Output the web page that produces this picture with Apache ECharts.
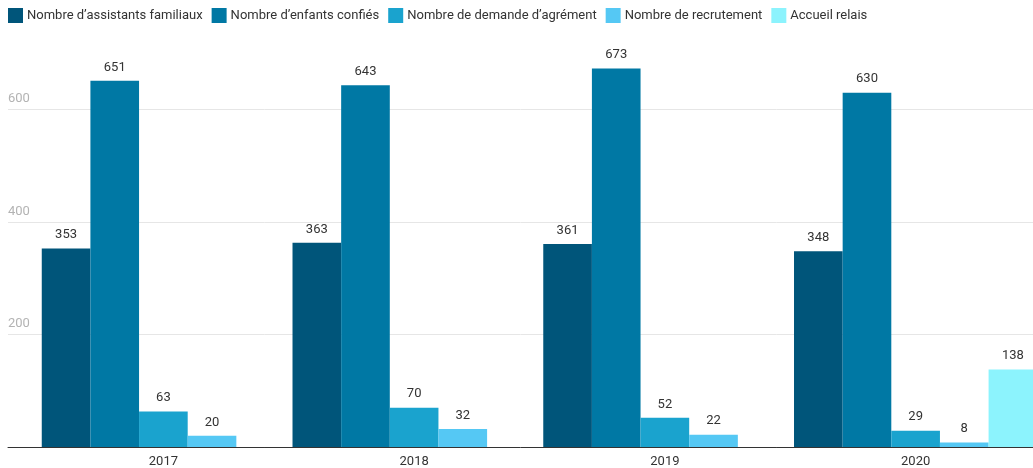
<!DOCTYPE html>
<html>
<head>
<meta charset="utf-8">
<style>
  html, body { margin: 0; padding: 0; background: #fff; }
  #chart { width: 1033px; height: 468px; }
</style>
<script src="https://cdn.jsdelivr.net/npm/echarts@6/dist/echarts.min.js"></script>
</head>
<body>
<div id="chart"></div>
<script>
// Years on the category axis
const years = ['2017', '2018', '2019', '2020'];

// One array per series, in year order
const assistantsFamiliaux = [353, 363, 361, 348];
const enfantsConfies = [651, 643, 673, 630];
const demandesAgrement = [63, 70, 52, 29];
const recrutements = [20, 32, 22, 8];
const accueilRelais = [null, null, null, 138];

const seriesNames = [
  'Nombre d’assistants familiaux',
  'Nombre d’enfants confiés',
  'Nombre de demande d’agrément',
  'Nombre de recrutement',
  'Accueil relais'
];
const seriesData = [assistantsFamiliaux, enfantsConfies, demandesAgrement, recrutements, accueilRelais];
const colors = ['#00557a', '#0078a4', '#1aa3ce', '#55c8f4', '#8cf3fd'];

const yMax = 800;
const yInterval = 200;
const font = 'Roboto, "Noto Sans", sans-serif';

const chart = echarts.init(document.getElementById('chart'), null, { renderer: 'canvas' });

chart.setOption({
  animation: false,
  textStyle: { fontFamily: font },
  color: colors,
  legend: {
    left: 8,
    top: 8,
    padding: 0,
    itemWidth: 15,
    itemHeight: 15,
    itemGap: 9,
    icon: 'rect',
    textStyle: { fontSize: 13, color: '#333', fontFamily: font, padding: [0, 0, 0, -1] },
    data: seriesNames
  },
  grid: [
    // background grid: gridlines, value labels and baseline
    { left: 8, right: 0, top: -3, bottom: 21, outerBoundsMode: 'none' },
    // bar grid, runs past the right edge
    { left: 38, width: 1003, top: -3, bottom: 21, outerBoundsMode: 'none' }
  ],
  xAxis: [
    {
      gridIndex: 0,
      type: 'value',
      min: 0,
      max: 1,
      axisLine: { show: true, onZero: false, lineStyle: { color: '#333', width: 1 } },
      axisTick: { show: false },
      axisLabel: { show: false },
      splitLine: { show: false }
    },
    {
      gridIndex: 1,
      type: 'category',
      data: years,
      axisLine: { show: false },
      axisTick: { show: false },
      axisLabel: { color: '#333', fontSize: 13, margin: 8, fontFamily: font }
    }
  ],
  yAxis: [
    {
      gridIndex: 0,
      type: 'value',
      min: 0,
      max: yMax,
      interval: yInterval,
      axisLine: { show: false },
      axisTick: { show: false },
      axisLabel: {
        inside: true,
        showMinLabel: false,
        showMaxLabel: false,
        verticalAlign: 'bottom',
        margin: 0,
        padding: [0, 0, 4, 0],
        color: '#b3b3b3',
        fontSize: 13,
        fontFamily: font
      },
      splitLine: { show: true, lineStyle: { color: '#e6e6e6', width: 1 } }
    },
    {
      gridIndex: 1,
      type: 'value',
      min: 0,
      max: yMax,
      interval: yInterval,
      show: false,
      splitLine: { show: false }
    }
  ],
  series: seriesNames.map((name, i) => ({
    name,
    type: 'bar',
    xAxisIndex: 1,
    yAxisIndex: 1,
    data: seriesData[i],
    barGap: '0%',
    barCategoryGap: '3%',
    itemStyle: { color: colors[i] },
    label: {
      show: true,
      position: 'top',
      distance: 7,
      color: '#333',
      fontSize: 13,
      fontFamily: font
    }
  }))
});
</script>
</body>
</html>
